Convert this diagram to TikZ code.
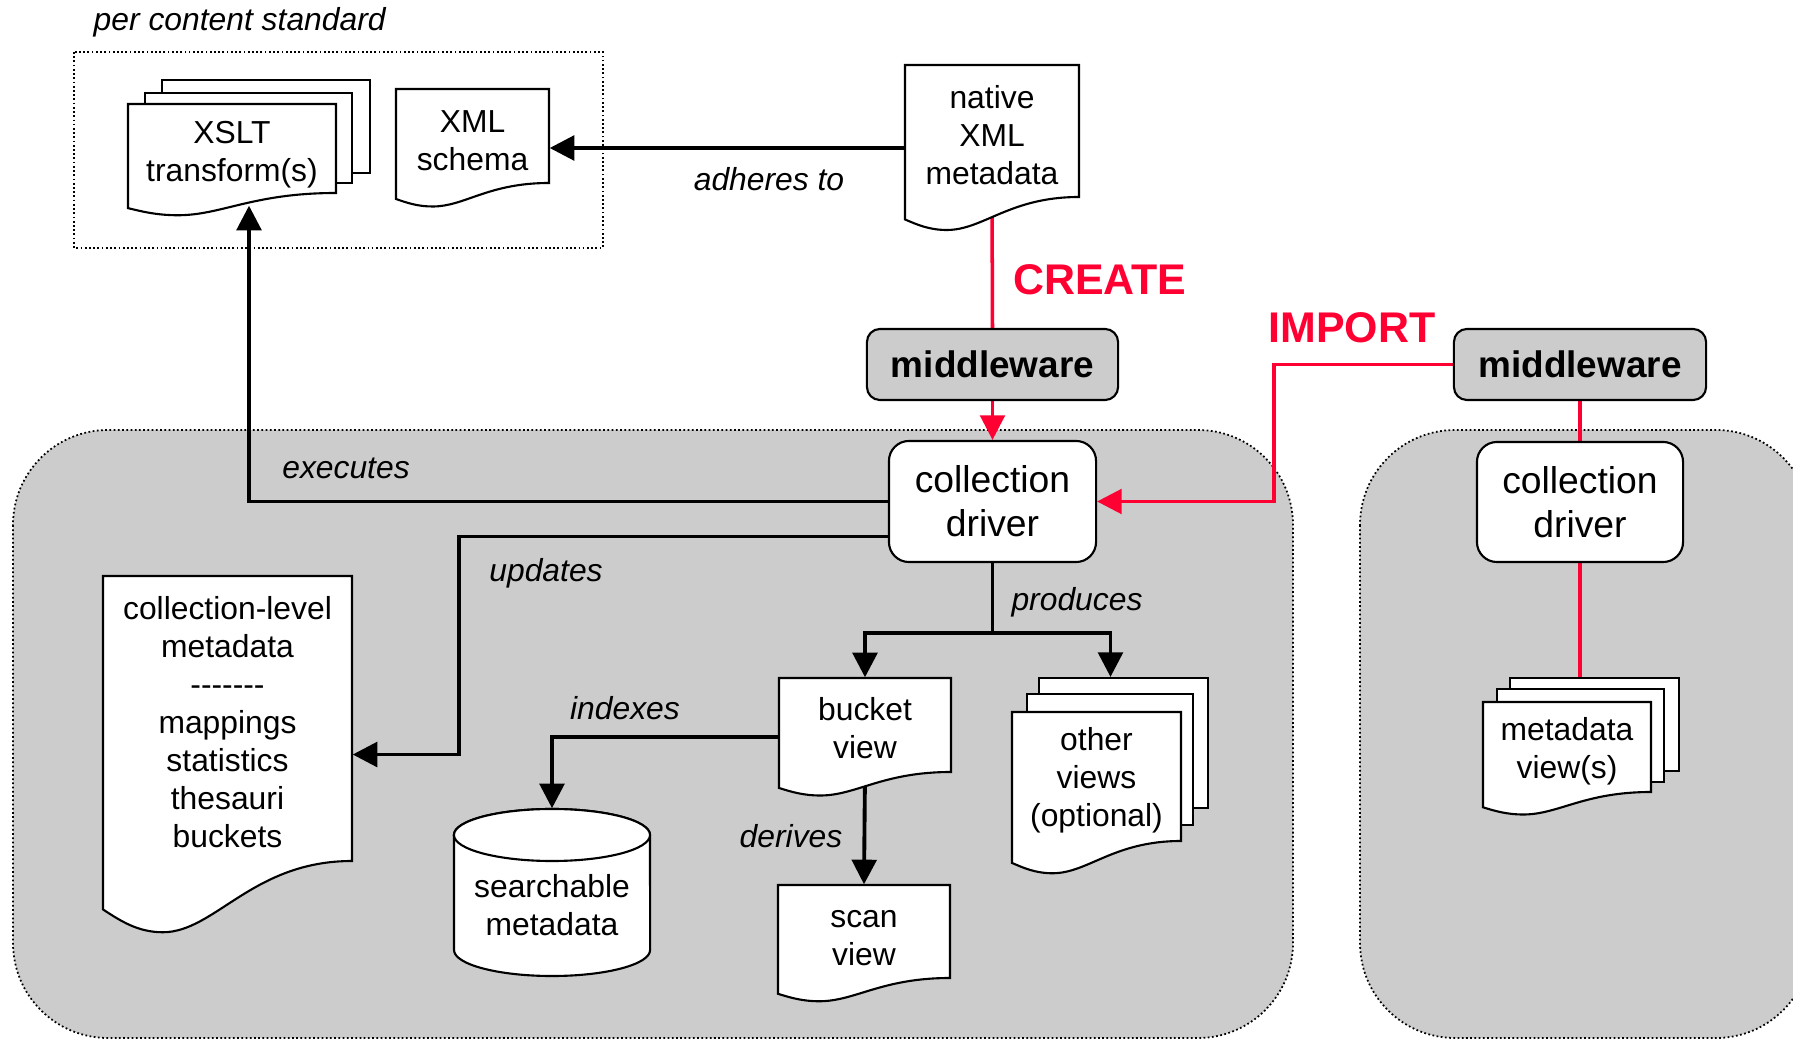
\documentclass[tikz,border=0pt]{standalone}
\usepackage{fontspec}
\setmainfont{Liberation Sans}
\usetikzlibrary{arrows.meta,calc}

\definecolor{panelgray}{RGB}{204,204,204}
\definecolor{flowred}{RGB}{255,0,51}

\pgfdeclarelayer{panels}
\pgfdeclarelayer{wires}
\pgfdeclarelayer{sheets}
\pgfsetlayers{panels,wires,sheets,main}

\tikzset{
  panel/.style={fill=panelgray, draw=black, line width=0.5pt,
    dash pattern=on 0.5pt off 0.7pt, rounded corners=0.95cm},
  groupframe/.style={draw=black, line width=0.5pt, dash pattern=on 0.5pt off 0.7pt},
  sheet/.style={fill=white, draw=black, line width=0.6pt, line join=miter},
  docbox/.style={inner sep=0pt},
  doclabel/.style={inner sep=0pt, align=center, font=\fontsize{9.05}{10.8}\selectfont},
  driver/.style={rectangle, rounded corners=0.2cm, fill=white, draw=black,
    line width=0.6pt, align=center, inner sep=0pt,
    font=\fontsize{10.6}{12.6}\selectfont},
  midware/.style={rectangle, rounded corners=0.13cm, fill=panelgray, draw=black,
    line width=0.6pt, inner sep=0pt, font=\bfseries\fontsize{10.5}{12.6}\selectfont},
  flow/.style={line width=1.1pt, draw=black},
  flowarrow/.style={flow, -{Triangle[length=7pt,width=7pt]}},
  redflow/.style={line width=1pt, draw=flowred},
  redarrow/.style={redflow, -{Triangle[length=7pt,width=7pt]}},
  verb/.style={inner sep=0pt, font=\itshape\fontsize{9.05}{10.8}\selectfont},
  mode/.style={inner sep=0pt, text=flowred, font=\bfseries\fontsize{12.2}{14}\selectfont},
}

% Seven separate hyphens (kerns keep them from merging into dashes)
\newcommand\hyphenrun{-\kern0pt-\kern0pt-\kern0pt-\kern0pt-\kern0pt-\kern0pt-}

% A document sheet with a wavy lower edge:
% name, left, top, right, bottom, text offset, text
\newcommand\docsheet[7]{%
  \begin{pgfonlayer}{sheets}
    \filldraw[sheet] (#2,#3) -- (#4,#3) -- (#4,#5)
      .. controls ({#2+0.6*(#4-#2)},#5) and ({#2+0.45*(#4-#2)},{#5+0.25*(#5-#3)})
      .. ({#2+0.24*(#4-#2)},{#5+0.25*(#5-#3)})
      .. controls ({#2+0.14*(#4-#2)},{#5+0.25*(#5-#3)}) and ({#2+0.07*(#4-#2)},{#5+0.21*(#5-#3)})
      .. (#2,{#5+0.17*(#5-#3)}) -- cycle;
  \end{pgfonlayer}
  \node[docbox, minimum width={(#4-#2)*0.01cm}, minimum height={(#5-#3)*0.01cm}]
    (#1) at ({(#2+#4)/2},{(#3+#5)/2}) {};
  \node[doclabel] (#1-text) at ([yshift={-(#6)*0.01cm}]#1.center) {#7};}

% A plain sheet lying behind a document: name, left, top, right, bottom
\newcommand\backsheet[5]{%
  \begin{pgfonlayer}{sheets}
    \node[sheet, rectangle, inner sep=0pt, minimum width={(#4-#2)*0.01cm},
      minimum height={(#5-#3)*0.01cm}] (#1) at ({(#2+#4)/2},{(#3+#5)/2}) {};
  \end{pgfonlayer}}

\begin{document}
\begin{tikzpicture}[x=0.01cm, y=-0.01cm]
\useasboundingbox (0,0) rectangle (1793,1040);

% ---- grey collection panels and the standards frame
\begin{pgfonlayer}{panels}
  \path[panel] (13,430) rectangle (1293,1038);
  \path[panel] (1360,430) rectangle (1811,1038);
  \path[groupframe] (74,52) rectangle (603,248);
\end{pgfonlayer}

\node[verb, anchor=west] (stdlabel) at (93,22) {per content standard};

% ---- standards: transforms and schema
\backsheet{xsltc}{162}{80}{370}{173}
\backsheet{xsltb}{145}{93}{352}{183}
\docsheet{xslt}{128}{104}{336}{193}{6}{XSLT\\transform(s)}
\docsheet{xsd}{396}{89}{549}{183}{5}{XML\\schema}

% ---- native metadata and middleware
\docsheet{native}{905}{65}{1079}{197}{4}{native\\XML\\metadata}
\node[midware, minimum width=2.51cm, minimum height=0.71cm] (mw1) at (992.5,364.5) {middleware};
\node[midware, minimum width=2.52cm, minimum height=0.71cm] (mw2) at (1580,364.5) {middleware};

% ---- collection drivers
\node[driver, minimum width=2.07cm, minimum height=1.21cm] (cd1) at (992.5,501.5) {collection\\driver};
\node[driver, minimum width=2.06cm, minimum height=1.20cm] (cd2) at (1580,502) {collection\\driver};

% ---- products of the local driver
\docsheet{collevel}{103}{576}{352}{861}{3.5}{collection-level\\metadata\\\hyphenrun\\mappings\\statistics\\thesauri\\buckets}
\docsheet{bucket}{779}{678}{951}{772}{3}{bucket\\view}
\docsheet{scan}{778}{885}{950}{978}{7}{scan\\view}
\backsheet{ovback}{1039}{678}{1208}{808}
\backsheet{ovmid}{1027}{694}{1193}{825}
\docsheet{other}{1012}{712}{1181}{841}{4}{other\\views\\(optional)}

% searchable store (cylinder)
\begin{pgfonlayer}{sheets}
  \filldraw[sheet] (454,835) -- (454,950)
    arc[start angle=180, end angle=360, x radius=0.98cm, y radius=0.26cm]
    -- (650,835)
    arc[start angle=0, end angle=180, x radius=0.98cm, y radius=0.26cm] -- cycle;
  \draw[sheet] (552,835) ellipse [x radius=0.98cm, y radius=0.26cm];
\end{pgfonlayer}
\node[doclabel, minimum width=1.96cm, minimum height=1.41cm] (store) at (552,905.5) {searchable\\metadata};

% ---- remote collection views
\backsheet{mvback}{1510}{678}{1679}{771}
\backsheet{mvmid}{1497}{689}{1664}{782}
\docsheet{mviews}{1483}{702}{1651}{792}{4.5}{metadata\\view(s)}

% ---- connectors
\begin{pgfonlayer}{wires}
  \draw[flowarrow] ([yshift=-0.17cm]native.west) coordinate (adh) -- (adh -| xsd.east);
  \draw[redflow] (native.south) -- (mw1.north);
  \draw[redarrow] (mw1.south) -- (cd1.north);
  \draw[redarrow] (mw2.west) -- ++(-179,0) |- (cd1.east);
  \draw[redflow] (mw2.south) -- (cd2.north);
  \draw[redflow] (cd2.south) -- (cd2.south |- mvback.north);
  \draw[flowarrow] (cd1.west) -| ([xshift=0.17cm,yshift=-0.12cm]xslt.south);
  \draw[flowarrow] ([yshift=-0.35cm]cd1.west) -- ++(-429,0) |- ([yshift=-0.36cm]collevel.east);
  \draw[flow] (cd1.south) -- ++(0,70) coordinate (fork);
  \draw[flowarrow] (fork) -| (bucket.north);
  \draw[flowarrow] (fork) -| ([xshift=-0.13cm]ovback.north);
  \draw[flowarrow] ([yshift=-0.12cm]bucket.west) -| ([yshift=0.26cm]store.north);
  \draw[flowarrow] (bucket.south) -- (scan.north);
\end{pgfonlayer}

% ---- connector labels
\node[verb] (lbladh) at (769,179) {adheres to};
\node[verb] (lblexe) at (346,468) {executes};
\node[verb] (lblupd) at (546,573) {updates};
\node[verb] (lblprod) at (1077,602) {produces};
\node[verb] (lblidx) at (625,708) {indexes};
\node[verb] (lblder) at (791,836) {derives};
\node[mode] (lblcreate) at (1100,280) {CREATE};
\node[mode] (lblimport) at (1352,328) {IMPORT};
\end{tikzpicture}
\end{document}
